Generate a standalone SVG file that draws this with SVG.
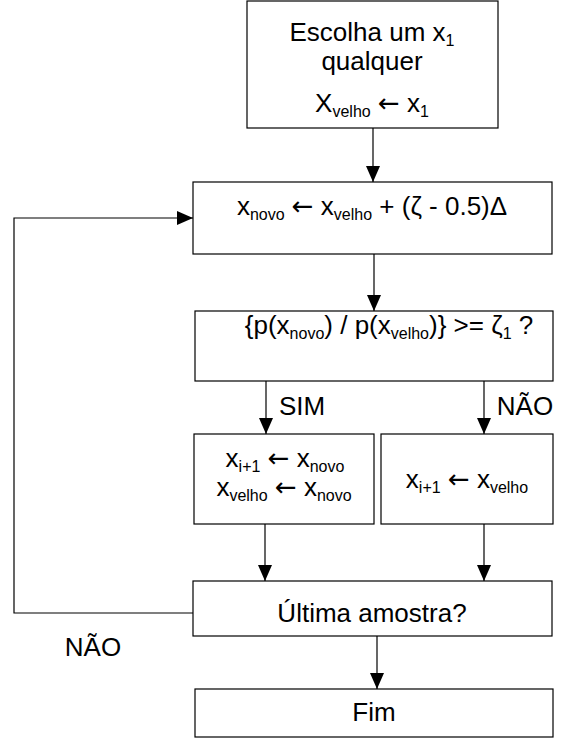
<svg xmlns="http://www.w3.org/2000/svg" width="570" height="738" viewBox="0 0 570 738">
<style>
.box{fill:#fff;stroke:#000;stroke-width:1.2}
.t{font-family:"Liberation Sans",Arial,Helvetica,sans-serif;font-size:26px;fill:#000;text-anchor:middle}
.s{font-size:16px}
.a{font-family:"DejaVu Sans",sans-serif;font-size:26px}
.c{fill:none;stroke:#000;stroke-width:1.2}
</style>
<defs>
<marker id="ah" viewBox="0 0 16 14" refX="16" refY="7" markerWidth="16" markerHeight="14" markerUnits="userSpaceOnUse" orient="auto">
<path d="M0,0 L16,7 L0,14 Z" fill="#000"/>
</marker>
</defs>
<rect width="570" height="738" fill="#fff"/>
<g id="connectors">
<line class="c" x1="373" y1="128" x2="373" y2="182" marker-end="url(#ah)"/>
<line class="c" x1="374" y1="254" x2="374" y2="311" marker-end="url(#ah)"/>
<line class="c" x1="266" y1="381" x2="266" y2="434" marker-end="url(#ah)"/>
<line class="c" x1="484" y1="381" x2="484" y2="434" marker-end="url(#ah)"/>
<line class="c" x1="265" y1="524" x2="265" y2="581" marker-end="url(#ah)"/>
<line class="c" x1="484" y1="524" x2="484" y2="581" marker-end="url(#ah)"/>
<line class="c" x1="377" y1="636" x2="377" y2="689" marker-end="url(#ah)"/>
<polyline class="c" points="193,613 14,613 14,218 193,218" marker-end="url(#ah)"/>
<text class="t" x="302" y="415">SIM</text>
<text class="t" x="525" y="415">NÃO</text>
<text class="t" x="93" y="656">NÃO</text>
</g>
<g id="n1">
<rect class="box" x="247" y="1" width="251" height="127"/>
<text class="t" x="372" y="41">Escolha um x<tspan class="s" dy="5">1</tspan></text>
<text class="t" x="372" y="70">qualquer</text>
<text class="t" x="372" y="112">X<tspan class="s" dy="5">velho</tspan><tspan dy="-5"> </tspan><tspan class="a">←</tspan> x<tspan class="s" dy="5">1</tspan></text>
</g>
<g id="n2">
<rect class="box" x="193" y="182" width="359" height="72"/>
<text class="t" x="372" y="215">x<tspan class="s" dy="5">novo</tspan><tspan dy="-5"> </tspan><tspan class="a">←</tspan> x<tspan class="s" dy="5">velho</tspan><tspan dy="-5"> + (ζ - 0.5)Δ</tspan></text>
</g>
<g id="n3">
<rect class="box" x="195" y="311" width="358" height="70"/>
<text class="t" x="389" y="334">{p(x<tspan class="s" dy="5">novo</tspan><tspan dy="-5">) / p(x</tspan><tspan class="s" dy="5">velho</tspan><tspan dy="-5">)} &gt;= ζ</tspan><tspan class="s" dy="5">1</tspan><tspan dy="-5"> ?</tspan></text>
</g>
<g id="n4">
<rect class="box" x="194" y="434" width="180" height="90"/>
<text class="t" x="285" y="467">x<tspan class="s" dy="5">i+1</tspan><tspan dy="-5"> </tspan><tspan class="a">←</tspan> x<tspan class="s" dy="5">novo</tspan></text>
<text class="t" x="284" y="496">x<tspan class="s" dy="5">velho</tspan><tspan dy="-5"> </tspan><tspan class="a">←</tspan>  x<tspan class="s" dy="5">novo</tspan></text>
</g>
<g id="n5">
<rect class="box" x="381" y="434" width="172" height="90"/>
<text class="t" x="467" y="488">x<tspan class="s" dy="5">i+1</tspan><tspan dy="-5"> </tspan><tspan class="a">←</tspan> x<tspan class="s" dy="5">velho</tspan></text>
</g>
<g id="n6">
<rect class="box" x="193" y="581" width="359" height="55"/>
<text class="t" x="372" y="622">Última amostra?</text>
</g>
<g id="n7">
<rect class="box" x="195" y="689" width="358" height="48"/>
<text class="t" x="374" y="721">Fim</text>
</g>
</svg>
